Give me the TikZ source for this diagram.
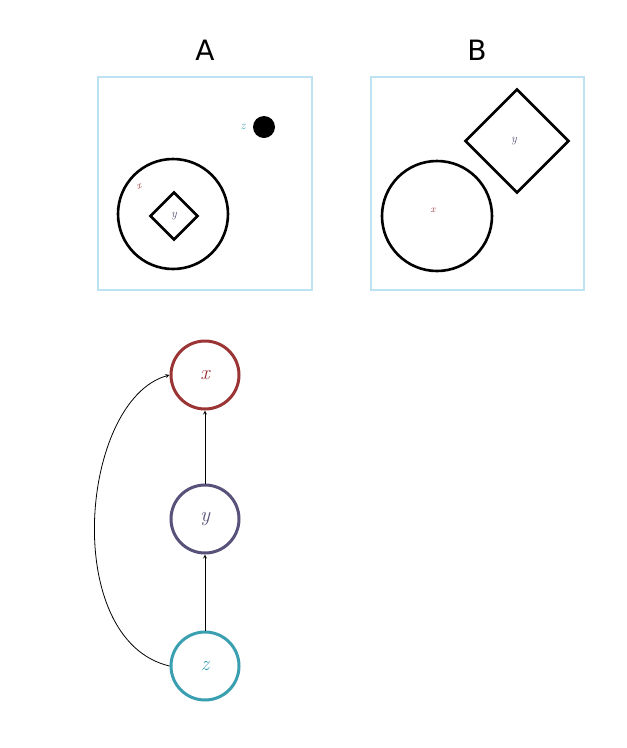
\documentclass[tikz,border=0pt]{standalone}
\usepackage{fontspec}
\setsansfont{DejaVu Sans}
\usetikzlibrary{shapes.geometric}
\begin{document}
\begin{tikzpicture}[x=1pt,y=-1pt,
  shp/.style={draw, line width=2.6pt},
  gnode/.style={circle, minimum size=68pt, line width=3pt, draw, inner sep=0},
  lab/.style={font=\sffamily\fontsize{28}{30}\selectfont},
  conn/.style={->, >=stealth, line width=0.8pt}]
\useasboundingbox (0,0) rectangle (627,748);
\definecolor{cx}{HTML}{9B3535}
\definecolor{cy}{HTML}{57527A}
\definecolor{cz}{HTML}{3A9FB0}
\definecolor{pb}{HTML}{BDE3F2}
% panel A
\node[lab] (tA) at (205,50) {A};
\draw[line width=2pt, draw=pb] (98,77) rectangle (312,290);
\node[circle, shp, minimum size=110pt] (cA) at (173,214) {};
\node[diamond, shp, minimum size=48pt, inner sep=0] (dA) at (174,216) {};
\node[text=cy, font=\large\itshape] (yA) at (174,216) {y};
\node[text=cx, font=\itshape, rotate=20] (xA) at (139,187) {x};
\node[text=cz, font=\large\itshape] (zA) at (243,127) {z};
\node[circle, fill=black, minimum size=22pt, inner sep=0] (dot) at (264,127) {};
% panel B
\node[lab] (tB) at (477,50) {B};
\draw[line width=2pt, draw=pb] (371,77) rectangle (584,290);
\node[circle, shp, minimum size=110pt] (cB) at (437,216) {};
\node[diamond, shp, minimum size=104pt, inner sep=0] (dB) at (517,141) {};
\node[text=cx, font=\itshape] (xB) at (433,210) {x};
\node[text=cy, font=\large\itshape] (yB) at (514,141) {y};
% graph
\node[gnode, draw=cx, text=cx, font=\huge\itshape] (x) at (205,375) {x};
\node[gnode, draw=cy, text=cy, font=\huge\itshape] (y) at (205,519) {y};
\node[gnode, draw=cz, text=cz, font=\huge\itshape] (z) at (205,666) {z};
\draw[conn] (z) -- (y);
\draw[conn] (y) -- (x);
\draw[conn] (z.west) .. controls (60,640) and (80,400) .. (x.west);
\end{tikzpicture}
\end{document}
